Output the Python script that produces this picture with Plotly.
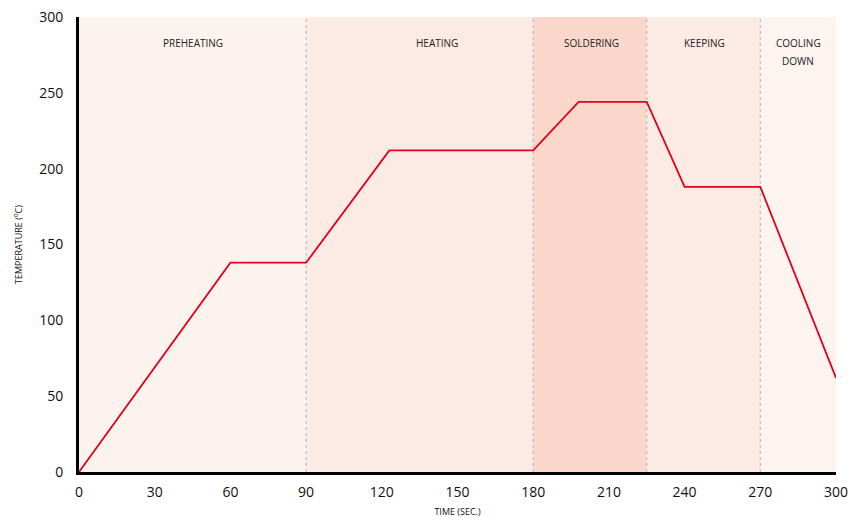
import plotly.graph_objects as go

# reflow profile
time_s = [0, 60, 90, 123, 180, 198, 225, 240, 270, 300]
temp_c = [0, 138, 138, 212, 212, 244, 244, 188, 188, 62]

# process zones
zone_names = ['PREHEATING', 'HEATING', 'SOLDERING', 'KEEPING', 'COOLING<br>DOWN']
zone_start = [0, 90, 180, 225, 270]
zone_end = [90, 180, 225, 270, 300]
zone_label_x = [45, 142, 203, 248, 285]
zone_colors = ['#fcf3ef', '#fcebe4', '#f9d8cb', '#fcebe4', '#fdf4f0']

FONT = 'Open Sans, Noto Sans, sans-serif'

fig = go.Figure()

for i, name in enumerate(zone_names):
    fig.add_shape(type='rect', xref='x', yref='y',
                  x0=zone_start[i], x1=zone_end[i], y0=0, y1=300,
                  fillcolor=zone_colors[i], line_width=0, layer='below')
    # each line placed on its own so the line spacing matches
    for j, part in enumerate(name.split('<br>')):
        fig.add_annotation(x=zone_label_x[i], y=283 - j * 12, xref='x', yref='y',
                           text=part, showarrow=False, yanchor='middle',
                           font=dict(family=FONT, size=10, color='#222'))

for b in zone_start[1:]:
    fig.add_shape(type='line', xref='x', yref='y', x0=b, x1=b, y0=0, y1=300,
                  line=dict(color='#b3b3b3', width=1, dash='3px,3px'), layer='below')

fig.add_trace(go.Scatter(
    x=time_s, y=temp_c, mode='lines',
    line=dict(color='#e3001b', width=1.8),
    hoverinfo='x+y', showlegend=False
))

fig.update_layout(
    width=849, height=520,
    margin=dict(l=79, r=13, t=17, b=48),
    paper_bgcolor='white', plot_bgcolor='white',
    font=dict(family=FONT, size=14, color='#111'),
    xaxis=dict(range=[0, 300], tickvals=list(range(0, 301, 30)),
               showgrid=False, zeroline=False, showline=True, automargin=False,
               linecolor='black', linewidth=3, ticks='', ticklen=0, ticklabelstandoff=5,
               title=dict(text='TIME (SEC.)', font=dict(size=9), standoff=9)),
    yaxis=dict(range=[0, 300], tickvals=list(range(0, 301, 50)),
               showgrid=False, zeroline=False, showline=True, automargin=False,
               linecolor='black', linewidth=3, ticks='', ticklabelstandoff=10,
               title=dict(text='TEMPERATURE (<sup>o</sup>C)', font=dict(size=9), standoff=16)),
)

fig.write_html('out.html', config={'displayModeBar': False},
               post_script="document.body.style.margin='0';")
